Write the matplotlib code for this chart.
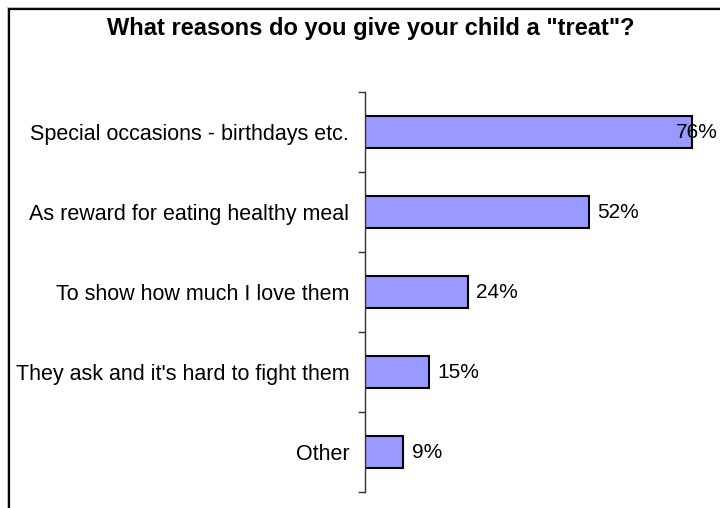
import matplotlib
matplotlib.use("Agg")
import matplotlib.pyplot as plt
from matplotlib.lines import Line2D
import numpy as np

plt.rcParams['font.family'] = ['Liberation Sans', 'DejaVu Sans']

title = 'What reasons do you give your child a "treat"?'
reasons = [
    "Special occasions - birthdays etc.",
    "As reward for eating healthy meal",
    "To show how much I love them",
    "They ask and it's hard to fight them",
    "Other",
]
pct = [76, 52, 24, 15, 9]

W, H = 720, 508
fig = plt.figure(figsize=(W / 100, H / 100), dpi=100)

# plot area: y axis at x=364.5px, from 92.5px to 492px (from top)
ax = fig.add_axes([364.5 / W, 1 - 492 / H, (W - 364.5) / W, (492 - 92.5) / H])

y = np.arange(len(reasons))
ax.barh(y, pct, height=0.4, color="#9999ff", edgecolor="black", linewidth=1.5)
ax.set_ylim(len(reasons) - 0.5, -0.5)
ax.set_xlim(0, (W - 364.5) / 4.315)

# category boundaries get the tick marks, centres get the labels
ax.set_yticks(np.arange(-0.5, len(reasons)), minor=False)
ax.set_yticklabels([])
ax.set_yticks(y, minor=True)
ax.set_yticklabels(reasons, minor=True, fontsize=15.5)
ax.tick_params(axis="y", which="major", direction="out", length=5, width=1, color="#333333")
ax.tick_params(axis="y", which="minor", length=0, pad=11)
ax.xaxis.set_visible(False)
for s in ["top", "right", "bottom"]:
    ax.spines[s].set_visible(False)
ax.spines["left"].set_color("#333333")
ax.spines["left"].set_linewidth(1)
ax.patch.set_visible(False)

# value labels to the right of each bar, pulled back inside the frame if too long
labels = []
for yi, v in zip(y, pct):
    t = ax.annotate(f"{v}%", (v, yi), xytext=(6, 0), textcoords="offset points",
                    ha="left", va="center", fontsize=15)
    labels.append(t)
fig.canvas.draw()
r = fig.canvas.get_renderer()
for t in labels:
    bb = t.get_window_extent(r)
    if bb.x1 > W - 2:
        dx = (bb.x1 - (W - 2)) * 72 / fig.dpi
        t.set_position((6 - dx, 0))

fig.text(371 / W, 1 - 28 / H, title, ha="center", va="center",
         fontsize=17, fontweight="bold")

# chart frame (runs off the right and bottom edges)
fig.add_artist(Line2D([9 / W, 1.2], [1 - 9 / H, 1 - 9 / H], transform=fig.transFigure,
                      color="black", lw=1.6))
fig.add_artist(Line2D([9 / W, 9 / W], [1 - 9 / H, -0.2], transform=fig.transFigure,
                      color="black", lw=1.6))
fig.add_artist(Line2D([7 / W, 1.2], [1 - 7 / H, 1 - 7 / H], transform=fig.transFigure,
                      color="#c0c0c0", lw=0.8))
fig.add_artist(Line2D([7 / W, 7 / W], [1 - 7 / H, -0.2], transform=fig.transFigure,
                      color="#c0c0c0", lw=0.8))

fig.savefig("out.png", dpi=100)
